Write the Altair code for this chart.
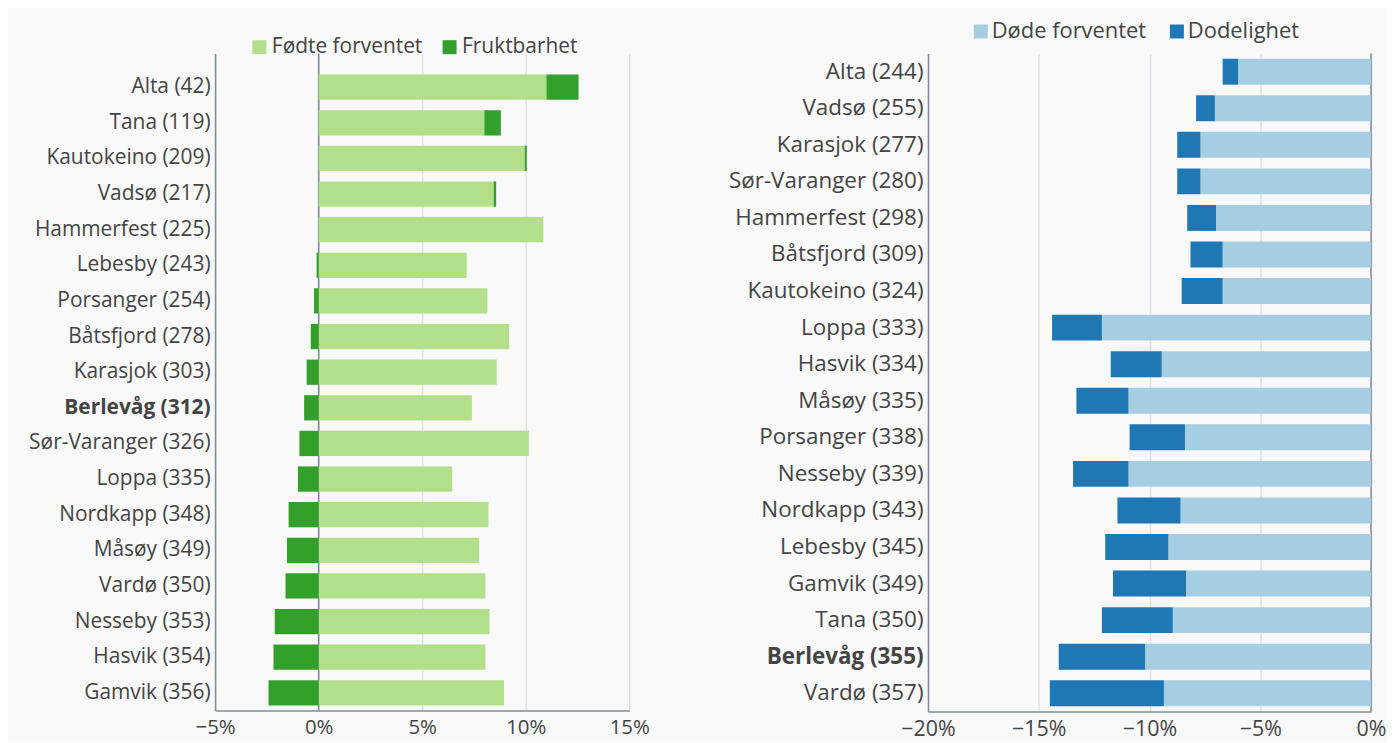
import altair as alt
import pandas as pd

# ---------------- data ----------------
left_names = ["Alta (42)", "Tana (119)", "Kautokeino (209)", "Vadsø (217)", "Hammerfest (225)",
              "Lebesby (243)", "Porsanger (254)", "Båtsfjord (278)", "Karasjok (303)", "Berlevåg (312)",
              "Sør-Varanger (326)", "Loppa (335)", "Nordkapp (348)", "Måsøy (349)", "Vardø (350)",
              "Nesseby (353)", "Hasvik (354)", "Gamvik (356)"]
fodte_forventet = [11.0, 8.0, 9.95, 8.45, 10.85, 7.15, 8.15, 9.2, 8.6, 7.4,
                   10.15, 6.45, 8.2, 7.75, 8.05, 8.25, 8.05, 8.95]
fruktbarhet = [1.55, 0.8, 0.1, 0.12, 0.0, -0.1, -0.22, -0.38, -0.58, -0.7,
               -0.93, -1.0, -1.45, -1.53, -1.6, -2.12, -2.18, -2.42]

right_names = ["Alta (244)", "Vadsø (255)", "Karasjok (277)", "Sør-Varanger (280)", "Hammerfest (298)",
               "Båtsfjord (309)", "Kautokeino (324)", "Loppa (333)", "Hasvik (334)", "Måsøy (335)",
               "Porsanger (338)", "Nesseby (339)", "Nordkapp (343)", "Lebesby (345)", "Gamvik (349)",
               "Tana (350)", "Berlevåg (355)", "Vardø (357)"]
dode_forventet = [-6.0, -7.05, -7.7, -7.7, -7.0, -6.7, -6.7, -12.15, -9.45, -10.95,
                  -8.4, -10.95, -8.6, -9.15, -8.35, -8.95, -10.2, -9.35]
dodelighet = [-0.7, -0.85, -1.05, -1.05, -1.3, -1.45, -1.85, -2.25, -2.3, -2.35,
              -2.5, -2.5, -2.85, -2.85, -3.3, -3.2, -3.9, -5.15]

left_series = ["Fødte forventet", "Fruktbarhet"]
right_series = ["Døde forventet", "Dodelighet"]
left_colors = ["#b2df8a", "#33a02c"]
right_colors = ["#a6cee3", "#1f78b4"]
left_ticks = [-5, 0, 5, 10, 15]
right_ticks = [-20, -15, -10, -5, 0]
left_bold = "Berlevåg (312)"
right_bold = "Berlevåg (355)"

FONT = "Open Sans"
TEXT = "#444444"
DOMAIN = "#7f8c98"
GRID = "#dde2e6"


def make_df(names, series, first, second):
    n = len(names)
    return pd.DataFrame({
        "kommune": names + names,
        "serie": [series[0]] * n + [series[1]] * n,
        "verdi": first + second,
        "rekkefolge": [0] * n + [1] * n,
    })


def panel(df, names, series, colors, ticks, bold_label, yfont, xfont, lfont, width, height,
          lx, ly, extent, col_pad, lab_off, sym, pad_outer, band_align):
    bars = alt.Chart(df).mark_bar().encode(
        y=alt.Y("kommune:N", sort=names,
                scale=alt.Scale(paddingInner=0.29, paddingOuter=pad_outer, align=band_align),
                axis=alt.Axis(title=None, ticks=False, grid=False, domain=True,
                              domainColor=DOMAIN, domainWidth=1.5,
                              labelFont=FONT, labelFontSize=yfont, labelColor=TEXT,
                              labelFontWeight=alt.ExprRef(
                                  f"datum.value == '{bold_label}' ? 'bold' : 'normal'"),
                              labelPadding=5, labelLimit=400,
                              minExtent=extent, maxExtent=extent)),
        x=alt.X("verdi:Q", stack="zero",
                scale=alt.Scale(domain=[ticks[0], ticks[-1]], nice=False, zero=False),
                axis=alt.Axis(title=None, values=ticks, ticks=False, grid=True,
                              gridColor=GRID, gridWidth=1.5, domainColor=DOMAIN,
                              domainWidth=1.5, labelFont=FONT, labelFontSize=xfont,
                              labelColor=TEXT, labelFlush=False, labelPadding=7,
                              labelExpr="format(datum.value, 'd') + '%'")),
        color=alt.Color("serie:N", scale=alt.Scale(domain=series, range=colors),
                        legend=alt.Legend(title=None, orient="none", legendX=lx, legendY=ly,
                                          direction="horizontal", symbolType="square",
                                          symbolSize=sym, symbolStrokeWidth=0,
                                          labelFont=FONT, labelFontSize=lfont,
                                          labelColor=TEXT, columnPadding=col_pad,
                                          labelOffset=lab_off)),
        order=alt.Order("rekkefolge:Q"),
    )
    zero = alt.Chart(pd.DataFrame({"nullpunkt": [0]})).mark_rule(
        color=DOMAIN, strokeWidth=1.5).encode(x=alt.X("nullpunkt:Q", title=None))
    return alt.layer(zero, bars).properties(width=width, height=height)


# left panel: bands pushed down inside a taller view so its rows sit lower than the right panel's
left = panel(make_df(left_names, left_series, fodte_forventet, fruktbarhet),
             left_names, left_series, left_colors, left_ticks, left_bold,
             21, 20.5, 21, 416, 660, 34, -17, 198, 16, 2, 196, 0.368, 0.806)
right = panel(make_df(right_names, right_series, dode_forventet, dodelighet),
              right_names, right_series, right_colors, right_ticks, right_bold,
              22.5, 21.5, 22, 445, 661, 42, -33, 205, 19, 0, 196, 0.145, 0.5)

chart = alt.hconcat(left, right, spacing=74).resolve_scale(
    color="independent", x="independent", y="independent"
).resolve_legend(color="independent").properties(
    background="#f9f9f9",
    padding={"left": 10, "top": 11, "right": 0, "bottom": 0},
).configure_view(stroke=None)

chart.save("out.html", embed_options={"renderer": "svg", "actions": False})
